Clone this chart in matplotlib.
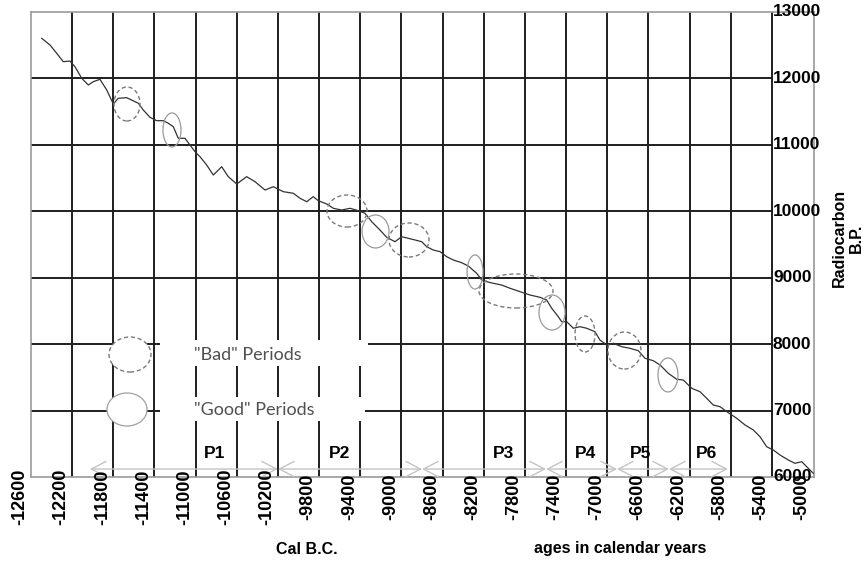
import numpy as np
import matplotlib
matplotlib.use("Agg")
import matplotlib.pyplot as plt
from matplotlib.patches import Ellipse, Rectangle

# calibration curve (cal year BC as negative, radiocarbon age BP)
cal_year = [-12389, -12308, -12243, -12179, -12114, -12066, -12000, -11936, -11888, -11823,
            -11757, -11693, -11645, -11563, -11450, -11402, -11337, -11272, -11207, -11159,
            -11110, -11062, -10997, -10948, -10899, -10851, -10786, -10721, -10640, -10576,
            -10494, -10397, -10316, -10219, -10138, -10041, -9944, -9879, -9814, -9750,
            -9701, -9619, -9555, -9474, -9393, -9312, -9247, -9182, -9102, -9036,
            -8956, -8891, -8826, -8761, -8696, -8648, -8584, -8518, -8453, -8389,
            -8308, -8243, -8162, -8113, -8065, -8000, -7919, -7838, -7741, -7644,
            -7547, -7482, -7433, -7369, -7336, -7287, -7223, -7158, -7093, -7012,
            -6964, -6898, -6834, -6753, -6672, -6591, -6526, -6446, -6380, -6300,
            -6218, -6154, -6072, -5992, -5927, -5863, -5797, -5717, -5635, -5554,
            -5474, -5409, -5344, -5279, -5214, -5134, -5069, -5003, -4923, -4891]
c14_age = [12604, 12503, 12378, 12252, 12262, 12177, 12002, 11901, 11951, 11987,
           11826, 11615, 11701, 11710, 11626, 11525, 11415, 11364, 11364, 11325,
           11273, 11099, 11099, 10998, 10897, 10822, 10697, 10546, 10671, 10521,
           10411, 10521, 10445, 10320, 10370, 10295, 10271, 10196, 10144, 10220,
           10159, 10110, 10045, 10019, 10045, 10009, 9970, 9843, 9718, 9608,
           9542, 9617, 9593, 9568, 9542, 9467, 9417, 9392, 9316, 9267,
           9226, 9176, 9066, 8966, 8940, 8916, 8890, 8841, 8790, 8740,
           8705, 8665, 8540, 8413, 8338, 8338, 8239, 8263, 8239, 8187,
           8062, 7987, 8013, 7962, 7937, 7901, 7787, 7751, 7686, 7561,
           7471, 7460, 7335, 7284, 7185, 7084, 7058, 6968, 6884, 6783,
           6708, 6607, 6456, 6406, 6331, 6256, 6206, 6230, 6105, 6056]

x_tick_years = list(range(-12600, -4999, 400))
y_ticks = [6000, 7000, 8000, 9000, 10000, 11000, 12000, 13000]

# periods P1..P6 with their arrows
period_names = ["P1", "P2", "P3", "P4", "P5", "P6"]
period_label_x = [-10705, -9490, -7906, -7100, -6565, -5933]
arrow_start = [-11920, -10093, -8693, -7488, -6798, -6293]
arrow_end = [-10093, -8693, -7488, -6798, -6293, -5720]

# ellipses marking "bad" and "good" periods: centre year, centre age, width, height
bad_x = [-11560, -9422, -8820, -7780, -7109, -6726]
bad_y = [11615, 10004, 9568, 8800, 8153, 7904]
bad_w = [253, 389, 389, 719, 194, 321]
bad_h = [512, 482, 512, 512, 542, 557]
good_x = [-11123, -9145, -8178, -7430, -6303]
good_y = [11224, 9696, 9086, 8476, 7536]
good_w = [175, 262, 155, 253, 194]
good_h = [512, 497, 512, 527, 512]

plt.rcParams['font.family'] = ['Liberation Sans', 'DejaVu Sans']

fig = plt.figure(figsize=(8.67, 5.61), dpi=100)
ax = fig.add_axes([31/867, 1-477/561, 783/867, 465/561])
ax.set_xlim(-12493, -4884)
ax.set_ylim(6000, 13000)
ax.set_xticks([])
ax.set_yticks([])
for s in ax.spines.values():
    s.set_color('#9a9a9a')
    s.set_linewidth(1.2)

grid_col = '#1e1e1e'
right_edge = -5293
for gx in np.arange(-12093, -5200, 400):
    ax.axvline(gx, color=grid_col, lw=1.4, zorder=1)
for gy in y_ticks[1:-1]:
    ax.plot([-12493, right_edge], [gy, gy], color=grid_col, lw=1.4, zorder=1)

# white boxes behind the legend text
ax.add_patch(Rectangle((-11240, 7671), 2022, 391, facecolor='white', edgecolor='none', zorder=2))
ax.add_patch(Rectangle((-11240, 6843), 1993, 361, facecolor='white', edgecolor='none', zorder=2))

ax.plot(cal_year, c14_age, color='#333333', lw=0.9, zorder=4)

for x, y, w, h in zip(bad_x, bad_y, bad_w, bad_h):
    ax.add_patch(Ellipse((x, y), w, h, fill=False, edgecolor='#7a7a7a', lw=1.0,
                         linestyle=(0, (3, 2)), zorder=5))
for x, y, w, h in zip(good_x, good_y, good_w, good_h):
    ax.add_patch(Ellipse((x, y), w, h, fill=False, edgecolor='#9a9a9a', lw=0.9, zorder=5))

# legend
ax.add_patch(Ellipse((-11531, 7844), 408, 527, facecolor='white', edgecolor='#7a7a7a', lw=1.0,
                     linestyle=(0, (3, 2)), zorder=5))
ax.add_patch(Ellipse((-11560, 7016), 389, 497, facecolor='white', edgecolor='#a0a0a0', lw=0.9, zorder=5))
ax.text(-10909, 7837, '"Bad" Periods', family='Lato', fontsize=13, color='#505050',
        va='center', ha='left', zorder=6)
ax.text(-10909, 7009, '"Good" Periods', family='Lato', fontsize=13, color='#505050',
        va='center', ha='left', zorder=6)

# period arrows and labels
for name, px, a0, a1 in zip(period_names, period_label_x, arrow_start, arrow_end):
    ax.annotate('', xy=(a1, 6120), xytext=(a0, 6120),
                arrowprops=dict(arrowstyle='<->,head_length=1.05,head_width=0.55',
                                color='#c4c4c4', lw=1.0, shrinkA=0, shrinkB=0),
                zorder=3)
    ax.text(px, 6361, name, fontsize=12.5, fontweight='bold', ha='center', va='center', zorder=6)

# axis labels
for yr in x_tick_years:
    ax.text(yr, -0.043, str(yr), transform=ax.get_xaxis_transform(), rotation=90,
            ha='center', va='center', fontsize=13, fontweight='bold', clip_on=False)
for yv in y_ticks:
    ax.text(right_edge + 10, yv, str(yv), ha='left', va='center', fontsize=12.5,
            fontweight='bold', clip_on=False, zorder=6)

fig.text(848/867, 1-238/561, 'Radiocarbon\nB.P.', rotation=90, ha='center', va='center',
         fontsize=11.5, fontweight='bold', multialignment='center')
fig.text(307/867, 1-550/561, 'Cal B.C.', ha='center', va='center', fontsize=11.5, fontweight='bold')
fig.text(620/867, 1-548/561, 'ages in calendar years', ha='center', va='center',
         fontsize=11.5, fontweight='bold')

fig.savefig('out.png', dpi=100)
